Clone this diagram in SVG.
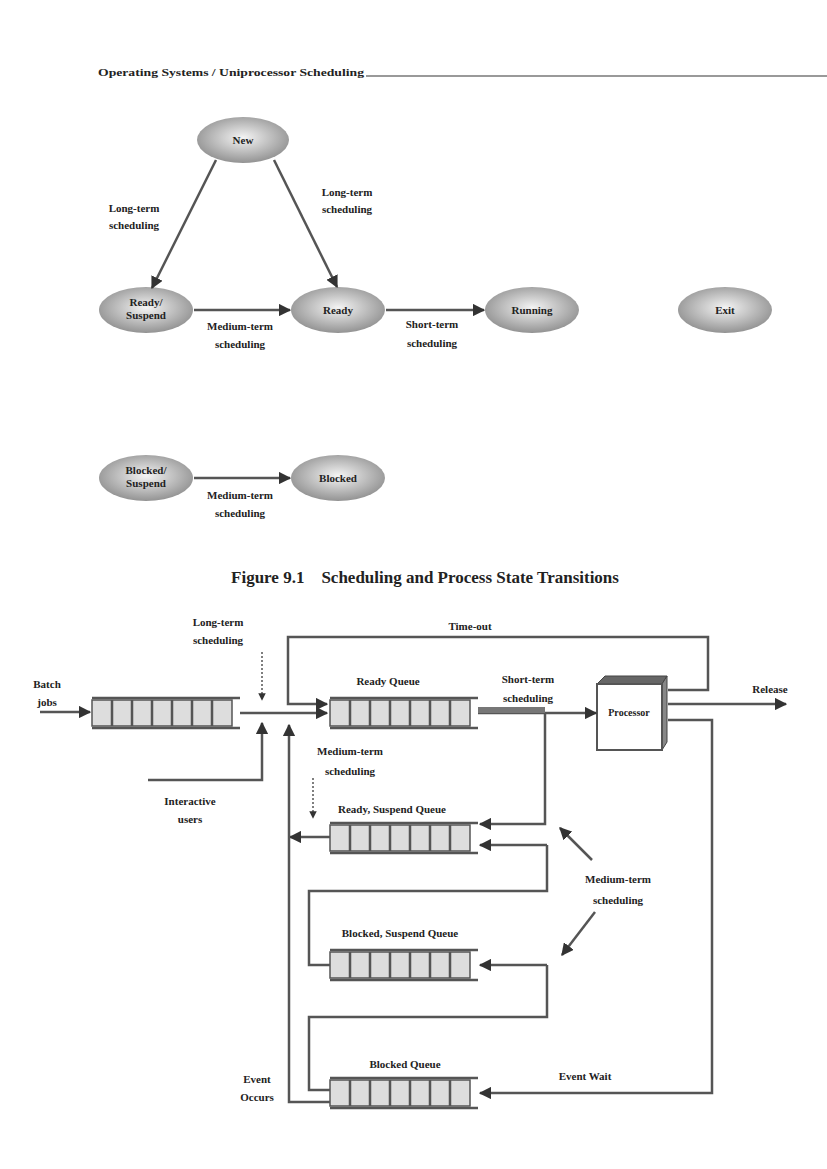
<svg xmlns="http://www.w3.org/2000/svg" width="827" height="1169" viewBox="0 0 827 1169">
<style>
text{font-family:"Liberation Serif",serif;font-weight:bold;fill:#222;font-size:11px;text-anchor:middle}
.ln{stroke:#555;stroke-width:2.5;fill:none}
.dot{stroke:#555;stroke-width:1.5;stroke-dasharray:2,2;fill:none}
.st{fill:url(#g);stroke:none}
.cell{fill:#ddd;stroke:#555;stroke-width:1.5}
.qline{stroke:#555;stroke-width:2.5}
</style>
<defs>
<radialGradient id="g" cx="0.5" cy="0.45" r="0.6"><stop offset="0" stop-color="#f4f4f4"/><stop offset="1" stop-color="#8a8a8a"/></radialGradient>
<marker id="a" viewBox="0 0 10 10" refX="9" refY="5" markerWidth="5" markerHeight="5" orient="auto"><path d="M0,0L10,5L0,10z" fill="#333"/></marker>
<g id="q"><rect class="cell" x="0" y="3" width="140" height="26"/><path class="qline" d="M0,1H148M0,31H148M20,3V29M40,3V29M60,3V29M80,3V29M100,3V29M120,3V29"/></g>
</defs>
<text x="98" y="76" style="font-size:11px;text-anchor:start" textLength="266" lengthAdjust="spacingAndGlyphs">Operating Systems / Uniprocessor Scheduling</text>
<line x1="366" y1="76" x2="827" y2="76" stroke="#999" stroke-width="2"/>
<g id="new"><ellipse class="st" cx="243" cy="140" rx="46" ry="23"/><text x="243" y="144">New</text></g>
<g id="readysusp"><ellipse class="st" cx="146" cy="310" rx="47" ry="23"/><text x="146" y="306">Ready/</text><text x="146" y="319">Suspend</text></g>
<g id="ready"><ellipse class="st" cx="338" cy="310" rx="47" ry="23"/><text x="338" y="314">Ready</text></g>
<g id="running"><ellipse class="st" cx="532" cy="310" rx="47" ry="23"/><text x="532" y="314">Running</text></g>
<g id="exit"><ellipse class="st" cx="725" cy="310" rx="47" ry="23"/><text x="725" y="314">Exit</text></g>
<g id="blockedsusp"><ellipse class="st" cx="146" cy="478" rx="47" ry="23"/><text x="146" y="474">Blocked/</text><text x="146" y="487">Suspend</text></g>
<g id="blocked"><ellipse class="st" cx="338" cy="478" rx="47" ry="23"/><text x="338" y="482">Blocked</text></g>
<g id="top-connectors">
<path class="ln" d="M216,160L152,288" marker-end="url(#a)"/>
<path class="ln" d="M274,160L337,287" marker-end="url(#a)"/>
<path class="ln" d="M194,310H290" marker-end="url(#a)"/>
<path class="ln" d="M386,310H484" marker-end="url(#a)"/>
<path class="ln" d="M194,478H290" marker-end="url(#a)"/>
</g>
<text x="134" y="212">Long-term</text><text x="134" y="229">scheduling</text>
<text x="347" y="196">Long-term</text><text x="347" y="213">scheduling</text>
<text x="240" y="330">Medium-term</text><text x="240" y="348">scheduling</text>
<text x="432" y="328">Short-term</text><text x="432" y="347">scheduling</text>
<text x="240" y="499">Medium-term</text><text x="240" y="517">scheduling</text>
<text x="425" y="583" style="font-size:17px;white-space:pre" xml:space="preserve">Figure 9.1    Scheduling and Process State Transitions</text>

<g id="batchq"><use href="#q" x="92" y="697"/></g>
<g id="readyq"><use href="#q" x="330" y="697"/><text x="388" y="685">Ready Queue</text></g>
<g id="rsq"><use href="#q" x="330" y="822"/><text x="392" y="813">Ready, Suspend Queue</text></g>
<g id="bsq"><use href="#q" x="330" y="949"/><text x="400" y="937">Blocked, Suspend Queue</text></g>
<g id="bq"><use href="#q" x="330" y="1077"/><text x="405" y="1068">Blocked Queue</text></g>
<g id="processor">
<path d="M597,684L605,676H667L662,684z" fill="#666" stroke="#444"/>
<path d="M662,684L667,676V742L662,750z" fill="#888" stroke="#444"/>
<rect x="597" y="684" width="65" height="66" fill="#fff" stroke="#555" stroke-width="2"/>
<text x="629" y="716" style="font-size:10px">Processor</text>
</g>
<g id="connectors">
<path class="ln" d="M40,712H90" marker-end="url(#a)"/>
<path class="ln" d="M240,713H327" marker-end="url(#a)"/>
<path class="dot" d="M262,652V700" marker-end="url(#a)"/>
<path class="ln" d="M148,780H262V723" marker-end="url(#a)"/>
<path class="ln" d="M668,690H708V637H288V704H327" marker-end="url(#a)"/>
<path class="ln" d="M478,713H596" marker-end="url(#a)"/>
<path d="M478,710H545" stroke="#777" stroke-width="6"/>
<path class="ln" d="M668,704H786" marker-end="url(#a)"/>
<path class="ln" d="M668,720H712V1093H480" marker-end="url(#a)"/>
<path class="ln" d="M545,713V824H480" marker-end="url(#a)"/>
<path class="ln" d="M547,845V891H309V965H330"/>
<path class="ln" d="M330,837H290" marker-end="url(#a)"/>
<path class="ln" d="M547,965V1017H309V1090H330"/>
<path class="ln" d="M547,965H480" marker-end="url(#a)"/>
<path class="ln" d="M547,845H480" marker-end="url(#a)"/>
<path class="ln" d="M330,1102H289V725" marker-end="url(#a)"/>
<path class="dot" d="M313,778V818" marker-end="url(#a)"/>
<path class="ln" d="M592,860L560,828" stroke-width="1.5" marker-end="url(#a)"/>
<path class="ln" d="M595,912L562,955" stroke-width="1.5" marker-end="url(#a)"/>
</g>
<text x="47" y="688">Batch</text><text x="47" y="706">jobs</text>
<text x="218" y="626">Long-term</text><text x="218" y="644">scheduling</text>
<text x="190" y="805">Interactive</text><text x="190" y="823">users</text>
<text x="470" y="630">Time-out</text>
<text x="528" y="683">Short-term</text><text x="528" y="702">scheduling</text>
<text x="770" y="693">Release</text>
<text x="350" y="755">Medium-term</text><text x="350" y="775">scheduling</text>
<text x="618" y="883">Medium-term</text><text x="618" y="904">scheduling</text>
<text x="585" y="1080">Event Wait</text>
<text x="257" y="1083">Event</text><text x="257" y="1101">Occurs</text>
</svg>
